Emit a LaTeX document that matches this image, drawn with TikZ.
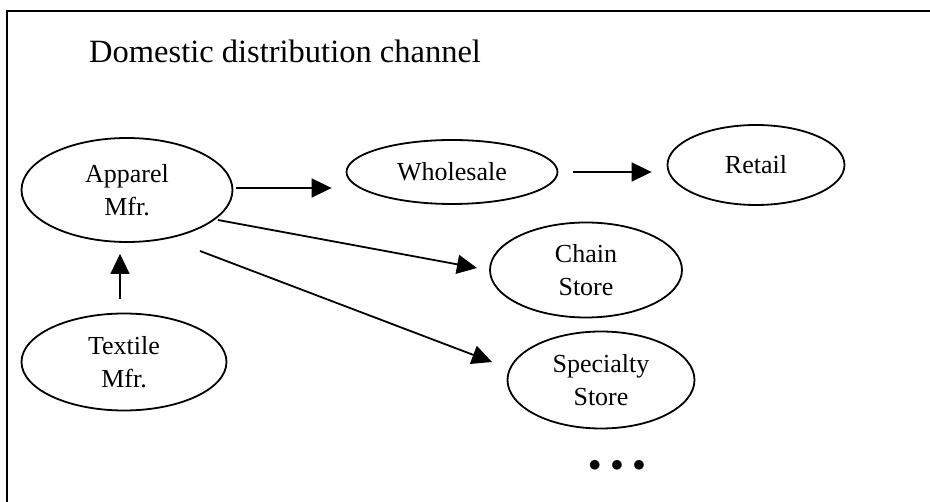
\documentclass[tikz,border=0pt]{standalone}
\usepackage{fontspec}
\setmainfont{Liberation Serif}
\usetikzlibrary{shapes.geometric,arrows.meta}

\tikzset{
  unit/.style={draw, ellipse, line width=1.8pt, inner sep=0pt, align=center,
    font=\fontsize{26}{33}\selectfont},
  flow/.style={line width=1.8pt, -{Triangle[length=20pt,width=19pt]}}
}

\begin{document}
\begin{tikzpicture}[x=1pt, y=-1pt]
    \useasboundingbox (0,0) rectangle (930,502);

    % Frame and title
    \draw[line width=2.6pt] (7,520) -- (7,11) -- (940,11);
    \node[anchor=base west, inner sep=0pt, font=\fontsize{32.5}{36}\selectfont] (title) at (89,63) {Domestic distribution channel};

    % Channel members
    \node[unit, minimum width=211pt, minimum height=104pt] (apparel) at (127,190) {Apparel\\Mfr.};
    \node[unit, minimum width=205pt, minimum height=97pt] (textile) at (124,362) {Textile\\Mfr.};
    \node[unit, minimum width=211pt, minimum height=64pt] (wholesale) at (452,172) {Wholesale};
    \node[unit, minimum width=177pt, minimum height=80pt] (retail) at (756,165) {Retail};
    \node[unit, minimum width=192pt, minimum height=95pt] (chain) at (586,270) {Chain\\Store};
    \node[unit, minimum width=187pt, minimum height=97pt] (specialty) at (601,380) {Specialty\\Store};

    % Flows
    \draw[flow, shorten <=14pt, shorten >=11pt] ([xshift=-4pt]textile.north) -- ([xshift=-4pt]textile.north |- apparel.south);
    \draw[flow] ([xshift=3pt,yshift=2pt]apparel.east) -- ([xshift=-14pt,yshift=2pt]apparel.east -| wholesale.west);
    \draw[flow] ([xshift=15pt]wholesale.east) -- ([xshift=-15pt]wholesale.east -| retail.west);
    \draw[flow] ([shift={(91,30)}]apparel.center) -- ([shift={(-109,-2)}]chain.center);
    \draw[flow] ([shift={(73,61)}]apparel.center) -- ([shift={(-109,-18)}]specialty.center);

    % More outlets
    \node[font=\fontsize{30}{30}\selectfont, inner sep=0pt] (more) at (617,466) {$\bullet\,\bullet\,\bullet$};
\end{tikzpicture}
\end{document}
